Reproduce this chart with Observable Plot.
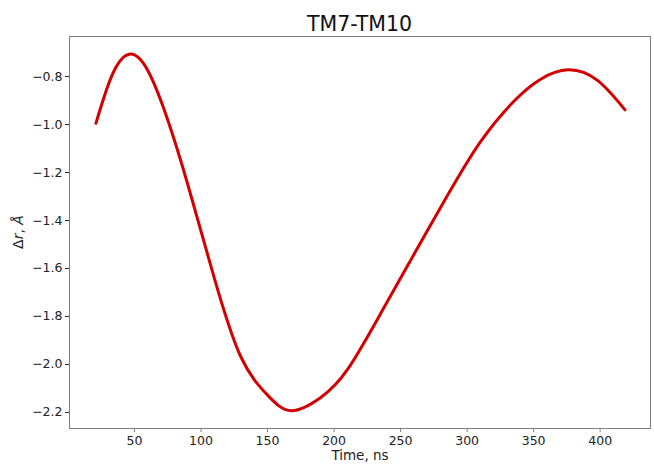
<!DOCTYPE html>
<html>
<head>
<meta charset="utf-8">
<script src="https://cdn.jsdelivr.net/npm/d3@7"></script>
<script src="https://cdn.jsdelivr.net/npm/@observablehq/plot@0.6"></script>
<style>
  body { margin: 0; background: #fff; }
  #title { box-sizing: border-box; height: 34px; width: 654px; padding: 14.4px 4px 0 69px;
           font: 20.5px "DejaVu Sans"; line-height: 1; text-align: center; color: #111; }
</style>
</head>
<body>
<div id="title"></div>
<div id="chart"></div>
<script>
const chartTitle = "TM7-TM10";
const xLabel = "Time, ns";
const times  = [21, 33, 46, 60, 75, 90, 110, 130, 150, 168, 190, 210, 235, 260, 285, 310, 335, 355, 376, 398, 418.7];
const values = [-0.995, -0.796, -0.707, -0.775, -0.981, -1.249, -1.64, -1.969, -2.128, -2.193, -2.138, -2.022, -1.788, -1.542, -1.298, -1.072, -0.904, -0.812, -0.772, -0.816, -0.939];
const xTicks = [50, 100, 150, 200, 250, 300, 350, 400];
const yTicks = [-2.2, -2.0, -1.8, -1.6, -1.4, -1.2, -1.0, -0.8];

document.getElementById("title").textContent = chartTitle;
const data = times.map((t, i) => ({t, v: values[i]}));
const fmt = d => (d < 0 ? "\u2212" : "") + Math.abs(d).toFixed(1);

const plot = Plot.plot({
  width: 654,
  height: 431,
  marginTop: 2,
  marginBottom: 37,
  marginLeft: 69,
  marginRight: 4,
  style: {fontFamily: "DejaVu Sans", fontSize: "12.5px", color: "#222", background: "#fff"},
  x: {domain: [1.15, 437.85], ticks: xTicks, label: null},
  y: {domain: [-2.267, -0.633], ticks: yTicks, label: null, tickFormat: fmt},
  marks: [
    Plot.frame({stroke: "#808080", strokeWidth: 1}),
    Plot.axisX({ticks: xTicks, tickSize: 4, tickPadding: 4, stroke: "#808080", fontSize: 12.5, color: "#222"}),
    Plot.axisY({ticks: yTicks, tickSize: 4, tickPadding: 3, tickFormat: fmt, fontSize: 12.5}),
    Plot.line(data, {x: "t", y: "v", stroke: "#d40000", strokeWidth: 3, curve: "natural"}),
    Plot.text([xLabel], {frameAnchor: "bottom", dy: 31, fontSize: 13.5, fill: "#222"})
  ]
});
document.getElementById("chart").appendChild(plot);

// y-axis label with math-style italic r
const svg = d3.select(plot);
const yr = plot.scale("y").range;
const cy = (yr[0] + yr[1]) / 2;
const lab = svg.append("text")
  .attr("transform", `translate(23,${cy}) rotate(-90)`)
  .attr("text-anchor", "middle")
  .attr("font-family", "DejaVu Sans")
  .attr("font-size", 14)
  .attr("fill", "#222");
lab.append("tspan").text("\u0394");
lab.append("tspan").attr("font-style", "italic").text("r");
lab.append("tspan").text(", ");
lab.append("tspan").attr("font-style", "italic").text("\u00C5");
</script>
</body>
</html>
